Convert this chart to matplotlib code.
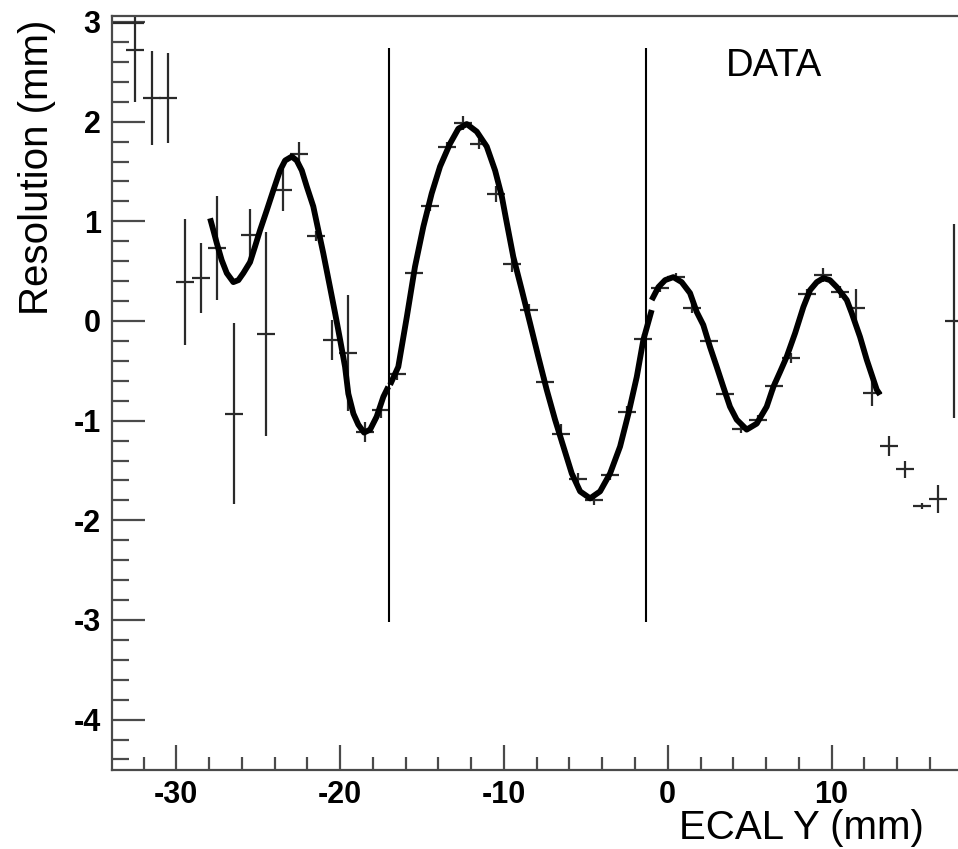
import numpy as np
import matplotlib.pyplot as plt
from matplotlib.ticker import MultipleLocator

plt.rcParams['font.family'] = ['Liberation Sans', 'DejaVu Sans']
plt.rcParams['axes.unicode_minus'] = False

# DATA - bin centres, values and errors
bin_x = [-33.0, -32.5, -31.5, -30.5, -29.5, -28.5, -27.5, -26.5, -25.5, -24.5,
         -23.5, -22.5, -21.5, -20.5, -19.5, -18.5, -17.5, -16.5, -15.5, -14.5,
         -13.5, -12.5, -11.5, -10.5, -9.5, -8.5, -7.5, -6.5, -5.5, -4.5,
         -3.5, -2.5, -1.5, -0.5, 0.5, 1.5, 2.5, 3.5, 4.5, 5.5,
         6.5, 7.5, 8.5, 9.5, 10.5, 11.5, 12.5, 13.5, 14.5, 15.5,
         16.5, 17.5]
bin_y = [2.99, 2.72, 2.24, 2.24, 0.39, 0.43, 0.735, -0.93, 0.86, -0.13,
         1.31, 1.675, 0.855, -0.19, -0.32, -1.11, -0.89, -0.53, 0.48, 1.15,
         1.75, 1.99, 1.78, 1.27, 0.57, 0.11, -0.61, -1.13, -1.59, -1.80,
         -1.55, -0.91, -0.18, 0.33, 0.44, 0.13, -0.20, -0.73, -1.08, -0.99,
         -0.65, -0.37, 0.27, 0.46, 0.29, 0.13, -0.72, -1.25, -1.49, -1.86,
         -1.79, 0.0]
bin_yerr = [0.0, 0.52, 0.47, 0.45, 0.63, 0.35, 0.52, 0.91, 0.26, 1.02,
            0.21, 0.12, 0.05, 0.2, 0.58, 0.1, 0.08, 0.06, 0.05, 0.05,
            0.05, 0.07, 0.05, 0.08, 0.08, 0.06, 0.05, 0.1, 0.06, 0.05,
            0.05, 0.06, 0.05, 0.04, 0.04, 0.05, 0.03, 0.03, 0.04, 0.05,
            0.05, 0.05, 0.05, 0.07, 0.06, 0.19, 0.13, 0.1, 0.09, 0.03,
            0.14, 0.97]
xerr_lo = [1.0] + [0.55] * 51
xerr_hi = [1.0] + [0.55] * 51

# fitted curve, three pieces
seg1_x = [-27.94, -27.74, -27.53, -27.23, -26.92, -26.52, -26.21, -25.91, -25.5, -25.2,
          -24.89, -24.48, -24.08, -23.67, -23.36, -22.95, -22.65, -22.34, -22.04, -21.64,
          -21.33, -21.03, -20.62, -20.31, -20.0, -19.7, -19.5, -19.19, -18.89, -18.54,
          -18.17, -17.77, -17.36, -17.06]
seg1_y = [1.03, 0.91, 0.78, 0.61, 0.48, 0.39, 0.41, 0.48, 0.59, 0.745,
          0.91, 1.11, 1.31, 1.51, 1.61, 1.65, 1.61, 1.51, 1.35, 1.15,
          0.91, 0.68, 0.34, 0.08, -0.19, -0.46, -0.73, -0.93, -1.04, -1.12,
          -1.09, -0.96, -0.76, -0.66]
seg2_x = [-16.95, -16.45, -15.93, -15.43, -14.92, -14.41, -13.9, -13.29, -12.78, -12.27,
          -11.66, -11.05, -10.54, -10.13, -9.88, -9.43, -8.91, -8.41, -7.9, -7.39,
          -6.88, -6.37, -5.86, -5.35, -4.74, -4.13, -3.52, -2.91, -2.4, -1.89,
          -1.49, -0.98]
seg2_y = [-0.64, -0.46, 0.04, 0.545, 0.946, 1.28, 1.55, 1.78, 1.93, 1.976,
          1.90, 1.75, 1.51, 1.25, 1.03, 0.645, 0.31, -0.02, -0.36, -0.69,
          -0.99, -1.26, -1.53, -1.71, -1.78, -1.71, -1.53, -1.26, -0.93, -0.56,
          -0.19, 0.11]
seg3_x = [-0.98, -0.57, -0.16, 0.34, 0.85, 1.36, 1.77, 2.17, 2.58, 2.99,
          3.39, 3.8, 4.21, 4.82, 5.43, 6.04, 6.45, 6.86, 7.26, 7.78,
          8.28, 8.69, 9.1, 9.5, 9.9, 10.32, 10.93, 11.23, 11.74, 12.15,
          12.76, 12.96]
seg3_y = [0.21, 0.34, 0.41, 0.44, 0.39, 0.28, 0.09, -0.04, -0.26, -0.46,
          -0.66, -0.86, -0.99, -1.09, -1.03, -0.86, -0.66, -0.51, -0.36, -0.12,
          0.14, 0.31, 0.39, 0.43, 0.41, 0.34, 0.21, 0.08, -0.16, -0.39,
          -0.69, -0.74]

cut_x = [-17.0, -1.32]
cut_lo, cut_hi = -3.02, 2.74

# FIGURE
fig = plt.figure(figsize=(9.58, 8.49), dpi=100)
ax = fig.add_axes([0.1167, 0.0931, 1 - 0.1167, 0.9815 - 0.0931])

ax.errorbar(bin_x, bin_y, xerr=[xerr_lo, xerr_hi], yerr=bin_yerr, fmt='none',
            ecolor='#2a2a2a', elinewidth=1.6, capsize=0)

for sx, sy in [(seg1_x, seg1_y), (seg2_x, seg2_y), (seg3_x, seg3_y)]:
    ax.plot(sx, sy, color='black', lw=4.2, solid_capstyle='butt', solid_joinstyle='round')

ax.vlines(cut_x, cut_lo, cut_hi, color='black', lw=1.5)

ax.set_xlim(-33.94, 17.72)
ax.set_ylim(-4.505, 3.063)

ax.xaxis.set_major_locator(MultipleLocator(10))
ax.xaxis.set_minor_locator(MultipleLocator(2))
ax.yaxis.set_major_locator(MultipleLocator(1))
ax.yaxis.set_minor_locator(MultipleLocator(0.2))

frame_col = '#4a4a4a'
for side in ['left', 'bottom', 'top']:
    ax.spines[side].set_color(frame_col)
    ax.spines[side].set_linewidth(1.6)
ax.spines['right'].set_visible(False)

ax.tick_params(axis='both', which='both', direction='in', width=1.6, color=frame_col,
               top=False, right=False, labelsize=22, labelcolor='black')
ax.tick_params(axis='y', which='major', length=24, pad=8)
ax.tick_params(axis='y', which='minor', length=12.5)
ax.tick_params(axis='x', which='major', length=18, pad=7)
ax.tick_params(axis='x', which='minor', length=9.5)
for lab in ax.get_xticklabels() + ax.get_yticklabels():
    lab.set_fontweight('bold')

fig.text(924 / 958, 1 - 839 / 849, 'ECAL Y (mm)', fontsize=29, ha='right', va='baseline')
fig.text(18 / 958, 1 - 20 / 849, 'Resolution (mm)', fontsize=29, rotation=90,
         ha='left', va='top')
fig.text(726 / 958, 1 - 76 / 849, 'DATA', fontsize=27.5, ha='left', va='baseline')

fig.savefig('out.png', dpi=100)
